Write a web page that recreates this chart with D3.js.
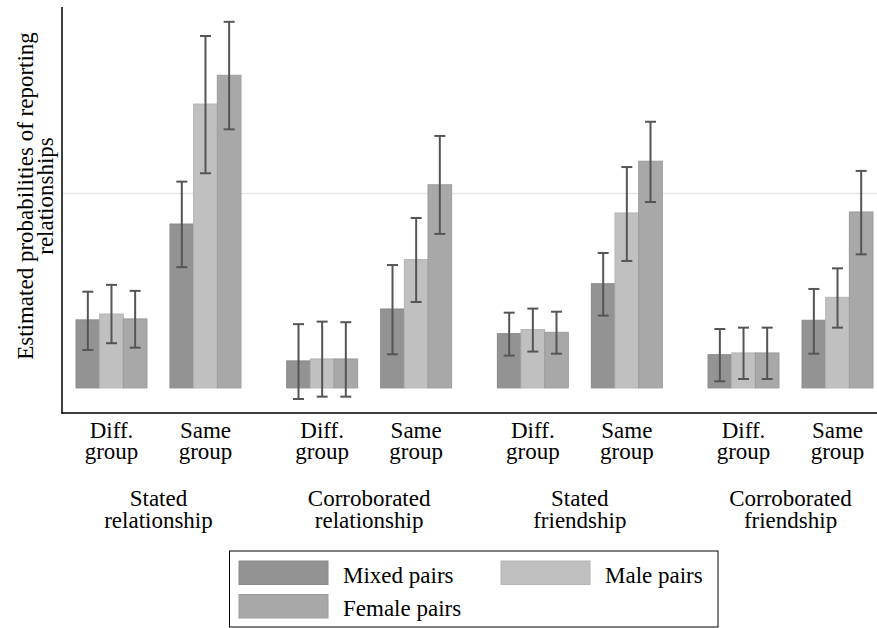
<!DOCTYPE html>
<html>
<head>
<meta charset="utf-8">
<script src="https://cdn.jsdelivr.net/npm/d3@7"></script>
<style>
  html, body { margin: 0; padding: 0; background: #fff; }
  svg { display: block; }
</style>
</head>
<body>
<svg id="chart" width="877" height="628"></svg>
<script>
// ---- Data ----
const groups = ["Stated\nrelationship", "Corroborated\nrelationship", "Stated\nfriendship", "Corroborated\nfriendship"];
const subgroups = ["Diff.\ngroup", "Same\ngroup"];
const series = ["Mixed pairs", "Male pairs", "Female pairs"];

// values ordered: [g1 diff, g1 same, g2 diff, g2 same, g3 diff, g3 same, g4 diff, g4 same]
const mixedVals = [0.0350, 0.0843, 0.0139, 0.0406, 0.0279, 0.0536, 0.0171, 0.0348];
const mixedLo   = [0.0195, 0.0621, -0.0057, 0.0173, 0.0166, 0.0372, 0.0034, 0.0176];
const mixedHi   = [0.0495, 0.1061, 0.0328, 0.0632, 0.0387, 0.0694, 0.0303, 0.0509];

const maleVals  = [0.0380, 0.1460, 0.0149, 0.0660, 0.0300, 0.0900, 0.0180, 0.0466];
const maleLo    = [0.0230, 0.1104, -0.0045, 0.0442, 0.0187, 0.0653, 0.0046, 0.0310];
const maleHi    = [0.0530, 0.1810, 0.0341, 0.0874, 0.0408, 0.1136, 0.0310, 0.0615];

const femaleVals = [0.0355, 0.1608, 0.0149, 0.1045, 0.0286, 0.1166, 0.0180, 0.0905];
const femaleLo   = [0.0207, 0.1330, -0.0045, 0.0792, 0.0176, 0.0956, 0.0046, 0.0687];
const femaleHi   = [0.0499, 0.1883, 0.0338, 0.1296, 0.0392, 0.1369, 0.0310, 0.1116];

const gridValues = [0.1];
const yLabel = ["Estimated probabilities of reporting", "relationships"];

const colors = ["#939393", "#c0c0c0", "#a8a8a8"];
const strokes = ["#8a8a8a", "#b4b4b4", "#9c9c9c"];

// ---- Build table ----
const seriesData = [
  {vals: mixedVals, lo: mixedLo, hi: mixedHi},
  {vals: maleVals, lo: maleLo, hi: maleHi},
  {vals: femaleVals, lo: femaleLo, hi: femaleHi}
];
const rows = [];
groups.forEach((g, gi) => {
  subgroups.forEach((s, si) => {
    const idx = gi * 2 + si;
    series.forEach((ser, k) => {
      rows.push({g, s, ser, k, v: seriesData[k].vals[idx], lo: seriesData[k].lo[idx], hi: seriesData[k].hi[idx]});
    });
  });
});

const FONT = "'Liberation Serif', 'Times New Roman', Tinos, 'DejaVu Serif', serif";
const svg = d3.select("#chart");
const fontSize = 23;
function txt(sel) {
  return sel.attr("font-family", FONT).attr("font-size", fontSize).attr("fill", "#000");
}

const y = d3.scaleLinear().domain([-0.0129, 0.1954]).range([413, 8]);
const xG = d3.scaleBand().domain(groups).range([76, 873]).paddingInner(0.217).paddingOuter(0);
const xS = d3.scaleBand().domain(subgroups).range([0, xG.bandwidth()]).paddingInner(0.245).paddingOuter(0);
const xK = d3.scaleBand().domain(series).range([0, xS.bandwidth()]).padding(0);

// gridline
svg.selectAll("line.grid").data(gridValues).enter().append("line")
  .attr("class", "grid")
  .attr("x1", 62).attr("x2", 877)
  .attr("y1", d => y(d)).attr("y2", d => y(d))
  .attr("stroke", "#e6e6e6").attr("stroke-width", 1.5);

// bars
svg.selectAll("rect.bar").data(rows).enter().append("rect")
  .attr("class", "bar")
  .attr("x", d => xG(d.g) + xS(d.s) + xK(d.ser))
  .attr("width", xK.bandwidth())
  .attr("y", d => y(d.v))
  .attr("height", d => y(0) - y(d.v))
  .attr("fill", d => colors[d.k])
  .attr("stroke", d => strokes[d.k])
  .attr("stroke-width", 1);

// error bars
const cx = d => xG(d.g) + xS(d.s) + xK(d.ser) + xK.bandwidth() / 2;
const cap = 5.5;
const eb = svg.selectAll("g.err").data(rows).enter().append("g").attr("class", "err")
  .attr("stroke", "#555").attr("stroke-width", 2);
eb.append("line").attr("x1", cx).attr("x2", cx).attr("y1", d => y(d.lo)).attr("y2", d => y(d.hi));
eb.append("line").attr("x1", d => cx(d) - cap).attr("x2", d => cx(d) + cap).attr("y1", d => y(d.lo)).attr("y2", d => y(d.lo));
eb.append("line").attr("x1", d => cx(d) - cap).attr("x2", d => cx(d) + cap).attr("y1", d => y(d.hi)).attr("y2", d => y(d.hi));

// axes lines
svg.append("line").attr("x1", 62).attr("x2", 62).attr("y1", 7).attr("y2", 413.5)
  .attr("stroke", "#000").attr("stroke-width", 1.5);
svg.append("line").attr("x1", 61.25).attr("x2", 877).attr("y1", 413).attr("y2", 413)
  .attr("stroke", "#000").attr("stroke-width", 1.5);

// subgroup tick labels & group labels (one text element per line)
groups.forEach(g => {
  subgroups.forEach(s => {
    const cxs = xG(g) + xS(s) + xS.bandwidth() / 2;
    s.split("\n").forEach((line, i) => {
      txt(svg.append("text")).attr("x", cxs).attr("y", 437.5 + i * 21)
        .attr("text-anchor", "middle").text(line);
    });
  });
  const cg = xG(g) + xG.bandwidth() / 2;
  g.split("\n").forEach((line, i) => {
    txt(svg.append("text")).attr("x", cg).attr("y", 506 + i * 22)
      .attr("text-anchor", "middle").text(line);
  });
});

// y label
yLabel.forEach((line, i) => {
  txt(svg.append("text"))
    .attr("transform", `translate(${32.5 + i * 20},196) rotate(-90)`)
    .attr("text-anchor", "middle").text(line);
});

// legend
svg.append("rect").attr("x", 229.5).attr("y", 551).attr("width", 488.5).attr("height", 76)
  .attr("fill", "#fff").attr("stroke", "#000").attr("stroke-width", 1);
const legPos = [
  {sx: 239, ty: 561, tx: 343},
  {sx: 501, ty: 561, tx: 605},
  {sx: 239, ty: 594.5, tx: 343}
];
series.forEach((s, k) => {
  const p = legPos[k];
  svg.append("rect").attr("x", p.sx).attr("y", p.ty).attr("width", 89).attr("height", 23.5)
    .attr("fill", colors[k]).attr("stroke", strokes[k]).attr("stroke-width", 1);
  txt(svg.append("text")).attr("x", p.tx).attr("y", p.ty + 21.5).text(s);
});
</script>
</body>
</html>
